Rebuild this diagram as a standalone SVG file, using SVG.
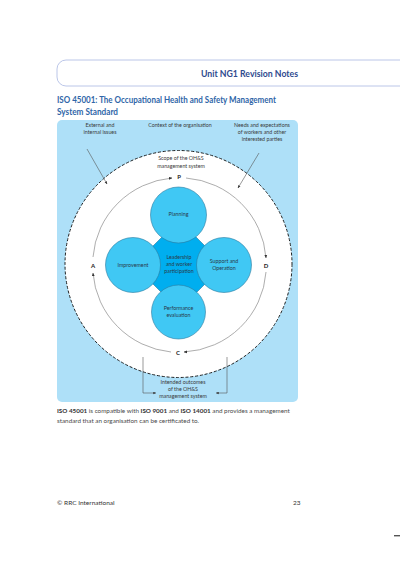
<svg xmlns="http://www.w3.org/2000/svg" width="400" height="565" viewBox="0 0 400 565">
<defs>
<style>
text{font-family:Lato,"Open Sans","Liberation Sans",sans-serif;fill:#3a3a3a}
.s{font-size:5.3px;text-anchor:middle}
.c{font-size:5.3px;text-anchor:middle;fill:#2a3a4a}
.b{font-size:6px;font-weight:bold;text-anchor:middle;fill:#222}
.body{font-size:6.3px;fill:#4a4a4a}
.cyc{fill:none;stroke:#8a8a8a;stroke-width:0.7}
.ln{fill:none;stroke:#555;stroke-width:0.6}
.node{fill:#40c8f4;stroke:#2a7aa0;stroke-width:0.6}
</style>
<marker id="ah" viewBox="0 0 10 10" refX="9" refY="5" markerWidth="5" markerHeight="5" orient="auto"><path d="M0,1 L10,5 L0,9 z" fill="#333"/></marker>
</defs>
<rect width="400" height="565" fill="#fff"/>
<path d="M400,60 H66 A9,9 0 0 0 57,69 V77 A9,9 0 0 0 66,86 H400" fill="none" stroke="#aab8e2" stroke-width="0.8"/>
<text x="201" y="77" textLength="97" lengthAdjust="spacingAndGlyphs" style="font-size:9.5px;font-weight:bold;fill:#2e4a8e">Unit NG1 Revision Notes</text>
<text x="57" y="103" textLength="219" lengthAdjust="spacingAndGlyphs" style="font-size:9px;font-weight:bold;fill:#2f66a8">ISO 45001: The Occupational Health and Safety Management</text>
<text x="57" y="115" textLength="61" lengthAdjust="spacingAndGlyphs" style="font-size:9px;font-weight:bold;fill:#2f66a8">System Standard</text>
<rect x="57" y="120" width="241" height="282" rx="5" fill="#aee0f8"/>
<circle cx="178.5" cy="264" r="113.5" fill="#fff" stroke="#222" stroke-width="1" stroke-dasharray="3 1.8"/>
<g id="connectors">
<path class="cyc" d="M93,257 A87,86 0 0 1 172,178" marker-end="url(#ah)"/>
<path class="cyc" d="M186,178 A87,86 0 0 1 266,258" marker-end="url(#ah)"/>
<path class="cyc" d="M266,272 A87,86 0 0 1 184,352" marker-end="url(#ah)"/>
<path class="cyc" d="M171,352 A87,86 0 0 1 93,273" marker-end="url(#ah)"/>
<line class="ln" x1="87" y1="149" x2="107" y2="184" marker-end="url(#ah)"/>
<line class="ln" x1="259" y1="153" x2="238" y2="188" marker-end="url(#ah)"/>
<polyline class="ln" points="143,357 143,393 156,393" marker-end="url(#ah)"/>
<polyline class="ln" points="227,357 227,393 216,393" marker-end="url(#ah)"/>
</g>
<g id="leadership"><polygon points="179,220 224,265 179,310 134,265" fill="#00aeef" stroke="#2a7aa0" stroke-width="0.6"/><text class="c" x="179" y="259">Leadership</text><text class="c" x="179" y="266">and worker</text><text class="c" x="179" y="273">participation</text></g>
<g id="planning"><circle class="node" cx="178.5" cy="215" r="28"/><text class="c" x="178.5" y="216">Planning</text></g>
<g id="improvement"><circle class="node" cx="133" cy="265" r="27.5"/><text class="c" x="133" y="267">Improvement</text></g>
<g id="support"><circle class="node" cx="224" cy="265" r="27.5"/><text class="c" x="224" y="263">Support and</text><text class="c" x="224" y="270">Operation</text></g>
<g id="performance"><circle class="node" cx="178.5" cy="312" r="27"/><text class="c" x="178.5" y="310">Performance</text><text class="c" x="178.5" y="317">evaluation</text></g>
<g id="labels">
<text class="s" x="100" y="127">External and</text><text class="s" x="100" y="134">internal issues</text>
<text class="s" x="180" y="127">Context of the organisation</text>
<text class="s" x="262" y="127">Needs and expectations</text><text class="s" x="262" y="134">of workers and other</text><text class="s" x="262" y="141">interested parties</text>
<text class="s" x="181" y="160">Scope of the OH&amp;S</text><text class="s" x="181" y="168">management system</text>
<text class="s" x="183" y="384">Intended outcomes</text><text class="s" x="183" y="391">of the OH&amp;S</text><text class="s" x="183" y="398">management system</text>
<text class="b" x="179" y="179">P</text><text class="b" x="266" y="268">D</text><text class="b" x="178" y="355">C</text><text class="b" x="93" y="268">A</text>
</g>
<text class="body" x="57" y="413"><tspan font-weight="bold" fill="#333">ISO 45001</tspan> is compatible with <tspan font-weight="bold" fill="#333">ISO 9001</tspan> and <tspan font-weight="bold" fill="#333">ISO 14001</tspan> and provides a management</text>
<text class="body" x="57" y="423">standard that an organisation can be certificated to.</text>
<text x="57" y="505" style="font-size:6.5px;fill:#333">© RRC International</text>
<text x="293" y="505" style="font-size:6.5px;fill:#333">23</text>
<rect x="394" y="535" width="6" height="1.4" fill="#555"/>
</svg>
